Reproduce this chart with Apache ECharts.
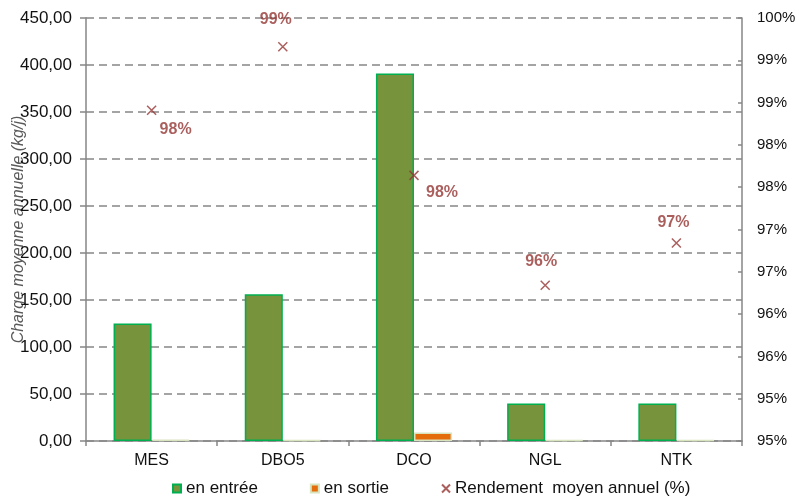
<!DOCTYPE html>
<html>
<head>
<meta charset="utf-8">
<script src="https://cdn.jsdelivr.net/npm/echarts@6/dist/echarts.min.js"></script>
<style>
html,body{margin:0;padding:0;background:#fff;}
#c{width:802px;height:497px;}
</style>
</head>
<body>
<div id="c"></div>
<script>
const categories = ['MES', 'DBO5', 'DCO', 'NGL', 'NTK'];
const enEntree = [125, 156, 391, 40, 40];
const enSortie = [1.5, 1, 9, 1, 1];
const rendement = [98.91, 99.66, 98.14, 96.84, 97.34];
const rendementLabels = ['98%', '99%', '98%', '96%', '97%'];
const rightTickLabels = ['95%', '95%', '96%', '96%', '97%', '97%', '98%', '98%', '99%', '99%', '100%'];
const labelOffsets = [[24, 19], [-7, -27], [28, 17], [-4, -24], [-3, -20]];

const FONT = 'Liberation Sans, Arial, sans-serif';
const AXIS = '#868686';
const RED = '#953735';
const TXT = '#111';

const chart = echarts.init(document.getElementById('c'), null, {renderer: 'canvas'});
chart.setOption({
  animation: false,
  backgroundColor: '#fff',
  textStyle: {fontFamily: FONT},
  grid: {left: 86, right: 60, top: 18, bottom: 56, containLabel: false, outerBoundsMode: 'none'},
  legend: {
    top: 480, left: 172, padding: 0, itemGap: 52, itemWidth: 8, itemHeight: 8,
    textStyle: {fontFamily: FONT, fontSize: 17, color: TXT},
    data: [
      {name: 'en entrée', icon: 'rect'},
      {name: 'en sortie', icon: 'rect'},
      {name: 'Rendement  moyen annuel (%)'}
    ]
  },
  xAxis: {
    type: 'category', data: categories,
    axisLine: {lineStyle: {color: AXIS, width: 1.5}},
    axisTick: {show: true, length: 5, lineStyle: {color: AXIS, width: 1.5}},
    axisLabel: {fontFamily: FONT, fontSize: 16, color: TXT, margin: 12}
  },
  yAxis: [
    {
      type: 'value', min: 0, max: 450, interval: 50,
      name: 'Charge moyenne annuelle (kg/j)', nameLocation: 'middle', nameGap: 59,
      nameMoveOverlap: false,
      nameTextStyle: {fontFamily: FONT, fontSize: 16, fontStyle: 'italic', color: '#595959'},
      axisLine: {show: true, lineStyle: {color: AXIS, width: 1.5}},
      axisTick: {show: true, length: 6, lineStyle: {color: AXIS, width: 1.5}},
      axisLabel: {fontFamily: FONT, fontSize: 17, color: TXT, margin: 14,
        formatter: v => v.toFixed(2).replace('.', ',')},
      splitLine: {show: true, lineStyle: {color: AXIS, width: 1.5, type: [8, 5]}}
    },
    {
      type: 'value', min: 95, max: 100, interval: 0.5, position: 'right',
      axisLine: {show: true, lineStyle: {color: AXIS, width: 1.5}},
      axisTick: {show: true, inside: true, length: 4, lineStyle: {color: AXIS, width: 1.5}},
      axisLabel: {fontFamily: FONT, fontSize: 15, color: TXT, margin: 15,
        formatter: (v) => rightTickLabels[Math.round((v - 95) / 0.5)]},
      splitLine: {show: false}
    }
  ],
  series: [
    {
      name: 'en entrée', type: 'bar', data: enEntree, barWidth: '29%', barGap: '0%',
      itemStyle: {color: '#77933C', borderColor: '#00B050', borderWidth: 1.5}
    },
    {
      name: 'en sortie', type: 'bar', data: enSortie, barWidth: '29%', barGap: '0%',
      itemStyle: {color: '#E46C0A', borderColor: '#D7E4BD', borderWidth: 1.5}
    },
    {
      name: 'Rendement  moyen annuel (%)', type: 'scatter', yAxisIndex: 1,
      symbol: 'path://M0,0 L10,10 M10,0 L0,10', symbolSize: 9,
      itemStyle: {color: 'rgba(0,0,0,0)', borderColor: RED, borderWidth: 1.5},
      data: rendement.map((v, i) => ({
        value: v,
        label: {
          show: true, position: 'inside', offset: labelOffsets[i],
          formatter: () => rendementLabels[i],
          fontFamily: FONT, fontSize: 16, fontWeight: 'bold', color: RED
        }
      }))
    }
  ]
});
</script>
</body>
</html>
